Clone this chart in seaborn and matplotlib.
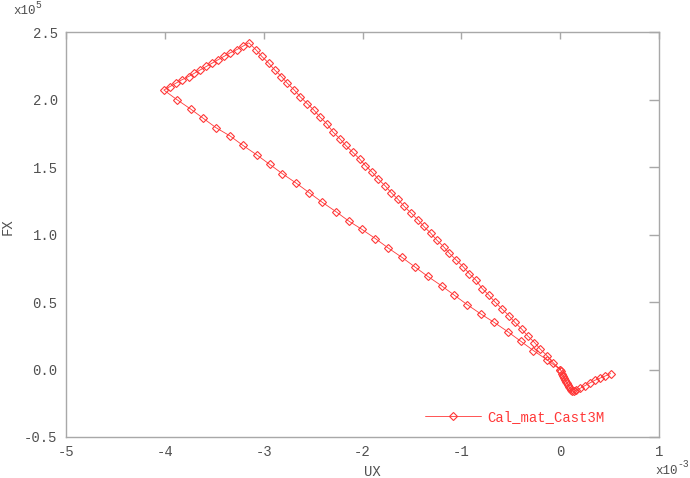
import numpy as np
import pandas as pd
import matplotlib
matplotlib.use('Agg')
import matplotlib.pyplot as plt
import seaborn as sns

# --- Data (UX in 1e-3, FX in 1e5) ---
# branch 1: from origin out to the left corner (coarse steps)
ux_branch1 = [0.00, -0.13, -0.27, -0.40, -0.53, -0.67, -0.80, -0.94, -1.07, -1.20,
              -1.34, -1.47, -1.60, -1.74, -1.87, -2.01, -2.14, -2.27, -2.41, -2.54,
              -2.67, -2.81, -2.94, -3.07, -3.21, -3.34, -3.48, -3.61, -3.74, -3.88, -4.01]
fx_branch1 = [0.00, 0.07, 0.14, 0.21, 0.28, 0.35, 0.41, 0.48, 0.55, 0.62,
              0.69, 0.76, 0.83, 0.90, 0.97, 1.04, 1.10, 1.17, 1.24, 1.31,
              1.38, 1.45, 1.52, 1.59, 1.66, 1.73, 1.79, 1.86, 1.93, 2.00, 2.07]

# branch 2: left corner up to the peak
ux_branch2 = [-3.95, -3.89, -3.83, -3.76, -3.70, -3.64, -3.58, -3.52, -3.46, -3.40,
              -3.34, -3.27, -3.21, -3.15]
fx_branch2 = [2.095, 2.12, 2.145, 2.17, 2.195, 2.22, 2.245, 2.27, 2.295, 2.32,
              2.345, 2.37, 2.395, 2.42]

# branch 3: peak back down to the origin (fine steps)
ux_branch3 = [-3.08, -3.02, -2.95, -2.89, -2.82, -2.76, -2.69, -2.63, -2.56, -2.49,
              -2.43, -2.36, -2.30, -2.23, -2.17, -2.10, -2.03, -1.97, -1.90, -1.84,
              -1.77, -1.71, -1.64, -1.58, -1.51, -1.44, -1.38, -1.31, -1.25, -1.18,
              -1.12, -1.05, -0.98, -0.92, -0.85, -0.79, -0.72, -0.66, -0.59, -0.52,
              -0.46, -0.39, -0.33, -0.26, -0.20, -0.13, -0.07, 0.00]
fx_branch3 = [2.37, 2.32, 2.27, 2.22, 2.17, 2.12, 2.07, 2.02, 1.97, 1.92,
              1.87, 1.82, 1.76, 1.71, 1.66, 1.61, 1.56, 1.51, 1.46, 1.41,
              1.36, 1.31, 1.26, 1.21, 1.16, 1.11, 1.06, 1.01, 0.96, 0.91,
              0.86, 0.81, 0.76, 0.71, 0.66, 0.60, 0.55, 0.50, 0.45, 0.40,
              0.35, 0.30, 0.25, 0.20, 0.15, 0.10, 0.05, 0.00]

# branch 4: small hook past the origin
ux_branch4 = [0.01, 0.02, 0.03, 0.04, 0.05, 0.06, 0.07, 0.08, 0.09, 0.10,
              0.11, 0.12, 0.14, 0.16, 0.20, 0.25, 0.30, 0.35, 0.40, 0.45, 0.51]
fx_branch4 = [-0.01, -0.03, -0.045, -0.06, -0.075, -0.09, -0.10, -0.115, -0.13, -0.14,
              -0.15, -0.16, -0.16, -0.155, -0.14, -0.12, -0.10, -0.08, -0.065, -0.05, -0.03]

series_name = 'Cal_mat_Cast3M'
xticks = [-5, -4, -3, -2, -1, 0, 1]
yticks = [-0.5, 0.0, 0.5, 1.0, 1.5, 2.0, 2.5]

df = pd.DataFrame({
    'UX': ux_branch1 + ux_branch2 + ux_branch3 + ux_branch4,
    'FX': fx_branch1 + fx_branch2 + fx_branch3 + fx_branch4,
})

# --- Style ---
sns.set_style('white')
plt.rcParams['font.family'] = ['Liberation Mono', 'DejaVu Sans Mono']
plt.rcParams['axes.unicode_minus'] = False

red = '#ff3838'
grey = '#a8a8a8'
txt = '#505050'

fig = plt.figure(figsize=(6.9, 4.78), dpi=100)
ax = fig.add_axes([66 / 690, 1 - 437 / 478, 593 / 690, 405 / 478])

sns.lineplot(data=df, x='UX', y='FX', sort=False, estimator=None, ax=ax,
             color=red, lw=0.6, marker='D', markersize=4.4,
             mfc='none', mec=red, mew=0.8, label=series_name)

ax.set_xlim(-5, 1)
ax.set_ylim(-0.5, 2.5)
ax.set_xticks(xticks)
ax.set_yticks(yticks)
ax.set_xticklabels([f'{t:d}' for t in xticks])
ax.set_yticklabels([f'{t:.1f}' for t in yticks])

for s in ax.spines.values():
    s.set_color(grey)
    s.set_linewidth(1.0)
ax.tick_params(axis='both', direction='in', colors=grey, labelcolor=txt,
               labelsize=10, top=True, right=True, width=1.0)
ax.tick_params(axis='x', length=5, pad=6)
ax.tick_params(axis='y', length=7, pad=6)

ax.set_xlabel('UX', fontsize=10, color=txt)
ax.set_ylabel('FX', fontsize=10, color=txt)
ax.xaxis.set_label_coords(0.516, -0.068)
ax.yaxis.set_label_coords(-0.087, 0.52)

# scale factors
fig.text(13 / 690, 1 - 14 / 478, 'x10', fontsize=9, color=txt, va='baseline')
fig.text(35 / 690, 1 - 8 / 478, '5', fontsize=7, color=txt, va='baseline')
fig.text(655 / 690, 1 - 474 / 478, 'x10', fontsize=9, color=txt, va='baseline')
fig.text(677 / 690, 1 - 467 / 478, '-3', fontsize=7, color=txt, va='baseline')

leg = ax.legend(loc='center left', bbox_to_anchor=((425 - 66) / 593, (437 - 417) / 405),
                frameon=False, borderpad=0, borderaxespad=0, handlelength=4.0,
                handletextpad=0.5, labelcolor=red, prop={'size': 10})

fig.savefig('out.png', dpi=100)
